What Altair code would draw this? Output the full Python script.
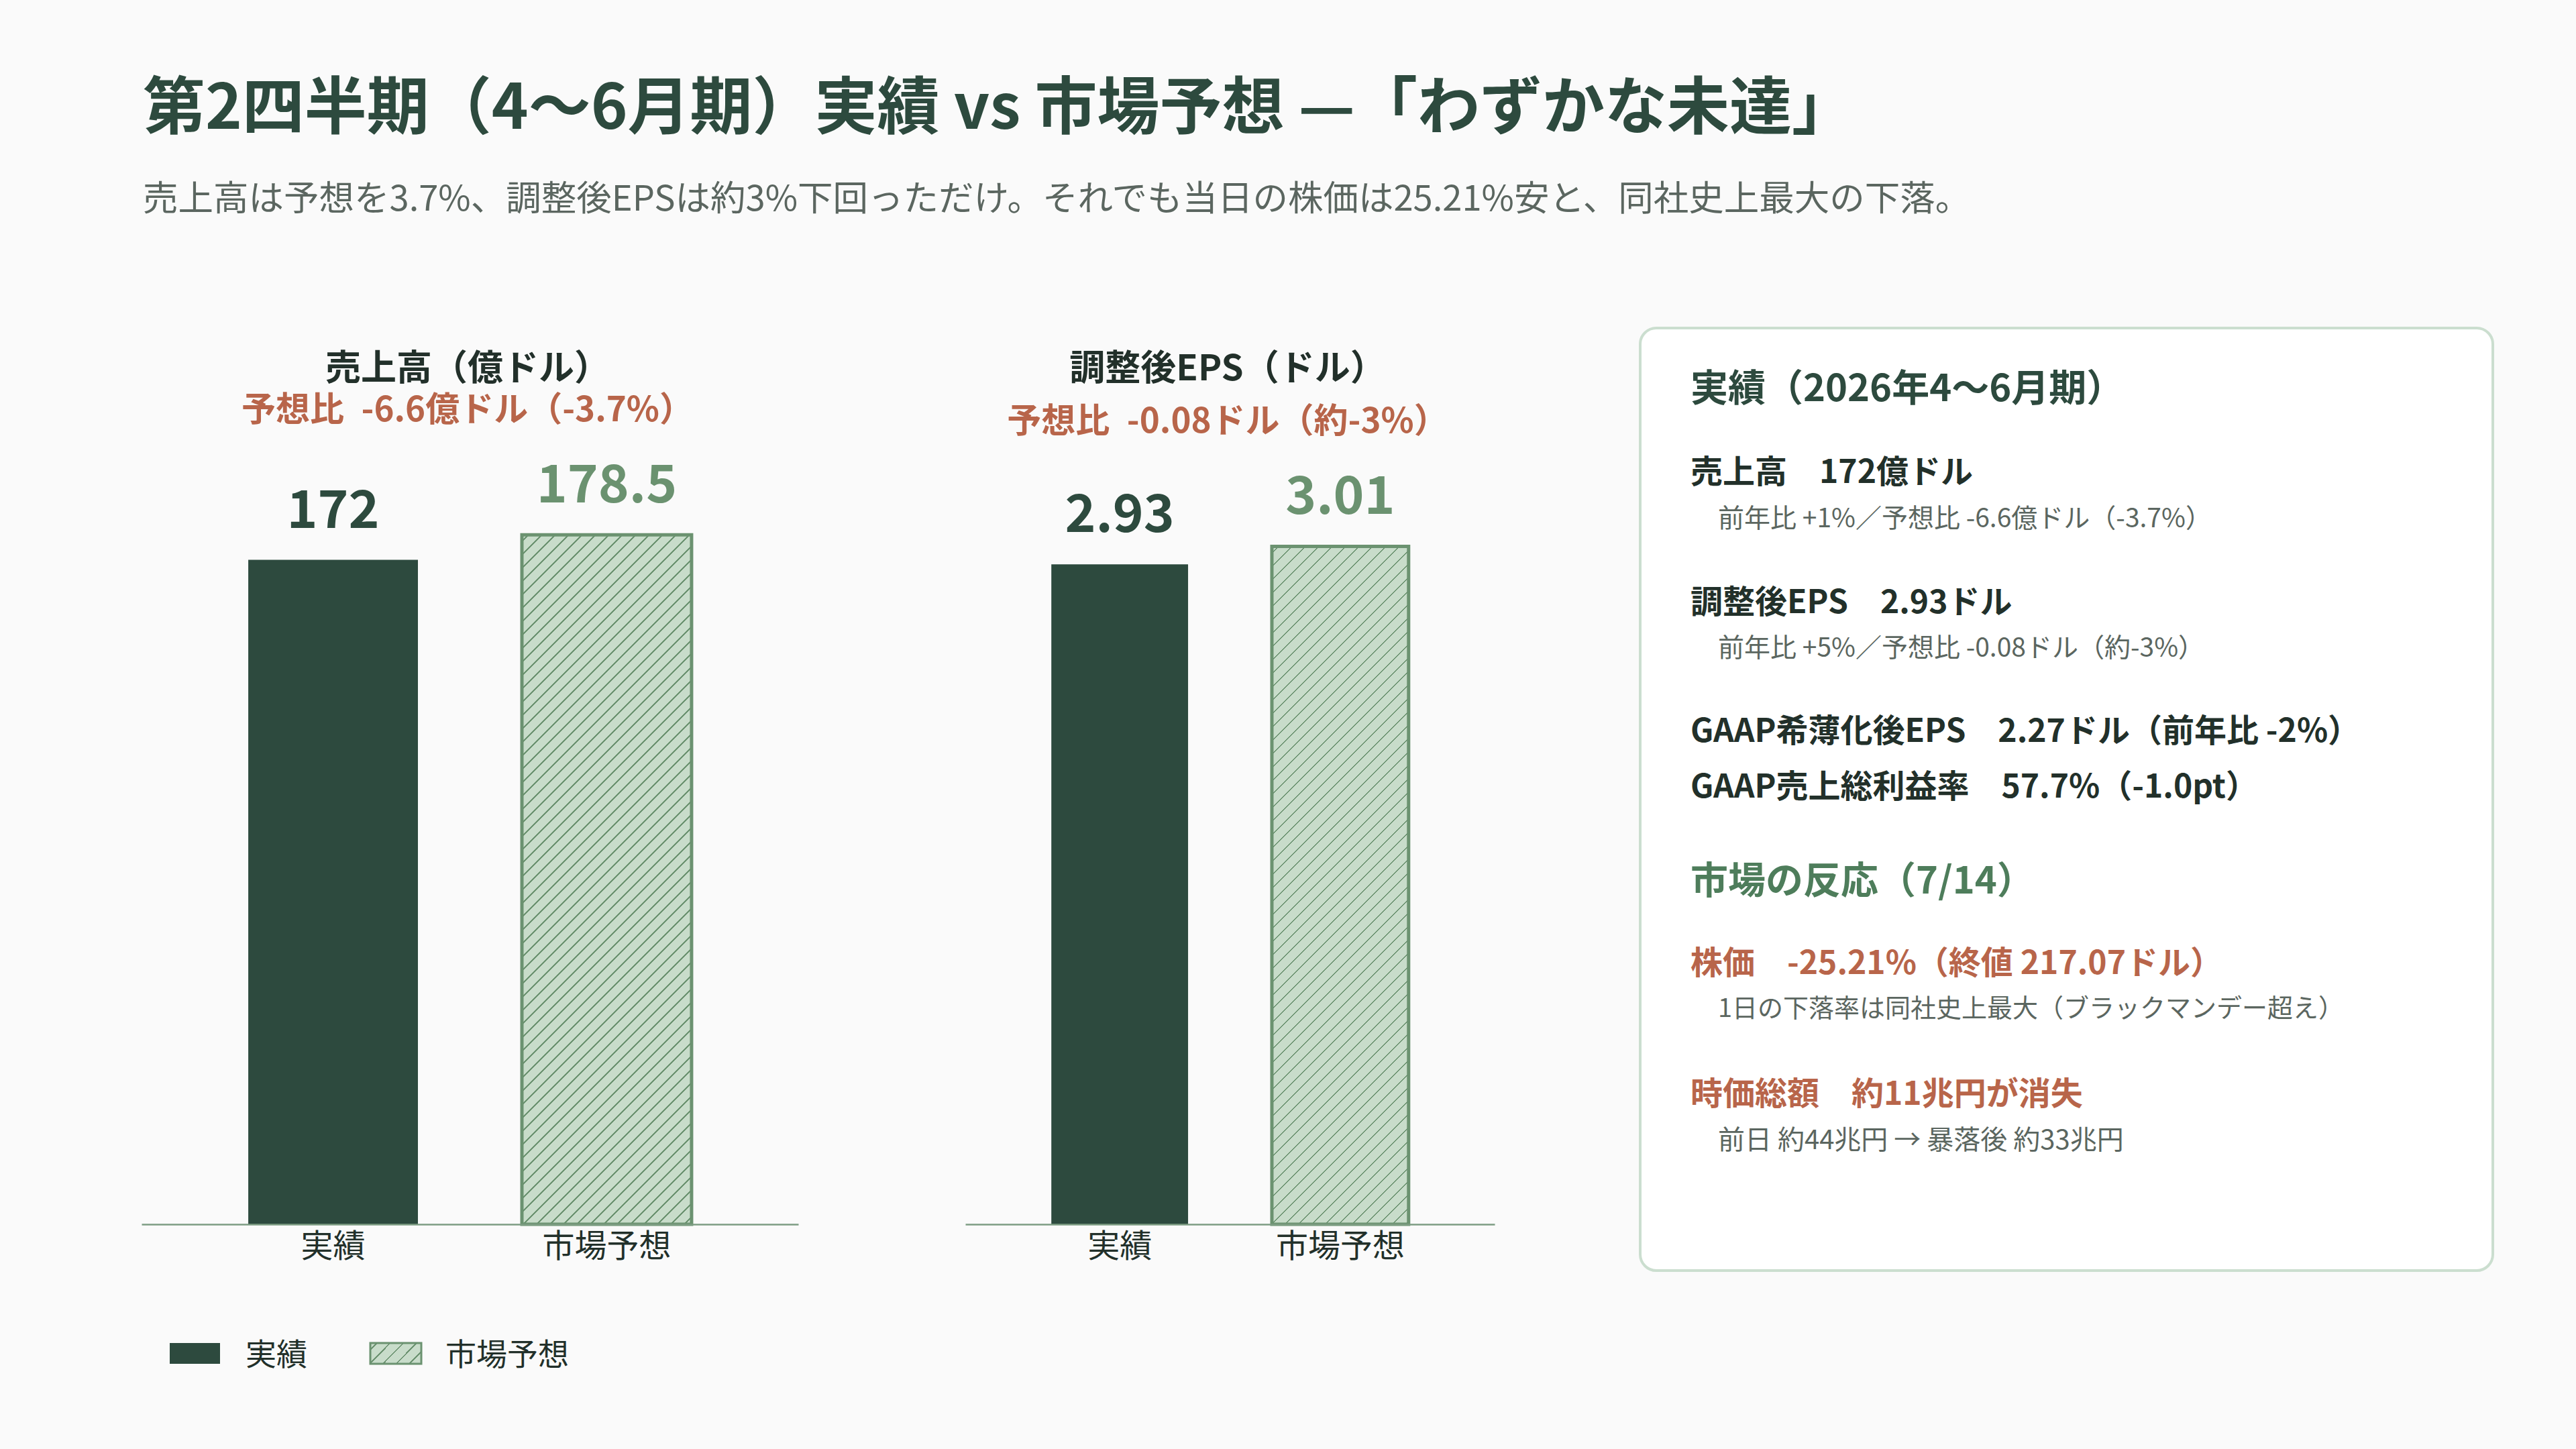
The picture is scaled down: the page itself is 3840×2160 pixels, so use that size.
import altair as alt
import pandas as pd

# ---- palette & type -------------------------------------------------------
FONT = "Noto Sans CJK JP"
BG = "#fafafa"
DARK = "#2d4a3e"
MID = "#6b9270"
LIGHT = "#c8dcca"
INK = "#22302a"
GRAY = "#5b6660"
ORANGE = "#b8654a"
REACT = "#4e7d5b"
AXIS_C = "#7d9d83"
CARD_BORDER = "#cbdecf"

W, H = 3840, 2160
BASE_Y = 1825      # bar baseline
TOP_Y = 673.4      # top of the bar plotting range
PAD_IN, PAD_OUT = 0.38, 0.39

# ---- data ------------------------------------------------------------------
categories = ["実績", "市場予想"]
revenue = [172, 178.5]      # 億ドル
eps = [2.93, 3.01]          # ドル
revenue_max = 200
eps_max = 3.43

main_title = "第2四半期（4〜6月期）実績 vs 市場予想 —「わずかな未達」"
main_sub = "売上高は予想を3.7%、調整後EPSは約3%下回っただけ。それでも当日の株価は25.21%安と、同社史上最大の下落。"

rev_title = "売上高（億ドル）"
rev_sub = "予想比\u2002-6.6億ドル（-3.7%）"
eps_title = "調整後EPS（ドル）"
eps_sub = "予想比\u2002-0.08ドル（約-3%）"

card_lines = [
    "実績（2026年4〜6月期）",
    "売上高\u3000172億ドル",
    "前年比 +1%／予想比 -6.6億ドル（-3.7%）",
    "調整後EPS\u30002.93ドル",
    "前年比 +5%／予想比 -0.08ドル（約-3%）",
    "GAAP希薄化後EPS\u30002.27ドル（前年比 -2%）",
    "GAAP売上総利益率\u300057.7%（-1.0pt）",
    "市場の反応（7/14）",
    "株価\u3000-25.21%（終値 217.07ドル）",
    "1日の下落率は同社史上最大（ブラックマンデー超え）",
    "時価総額\u3000約11兆円が消失",
    "前日 約44兆円 → 暴落後 約33兆円",
]


def hatch(w, h, period=20.0, line=2.6):
    """Diagonal '/' stripes as a hard-stop linear gradient over a w x h box."""
    s = w + h
    c = s / (w * w + h * h)
    stops = [{"offset": 0, "color": LIGHT}]
    pos = period / 2
    while pos + line / 2 < s:
        a = round((pos - line / 2) / s, 6)
        b = round((pos + line / 2) / s, 6)
        stops += [
            {"offset": a, "color": LIGHT},
            {"offset": a, "color": MID},
            {"offset": b, "color": MID},
            {"offset": b, "color": LIGHT},
        ]
        pos += period
    stops.append({"offset": 1, "color": LIGHT})
    return {"gradient": "linear", "x1": 0, "y1": 0,
            "x2": round(w * c, 6), "y2": round(h * c, 6), "stops": stops}


def text(t, x, y, size, color, weight="normal", align="left"):
    return alt.Chart(pd.DataFrame({"t": [t]})).mark_text(
        align=align, baseline="alphabetic", font=FONT, fontSize=size,
        fontWeight=weight, color=color,
    ).encode(x=alt.value(x), y=alt.value(y), text="t:N")


def bar_panel(values, x_range, v_max, fmt):
    df = pd.DataFrame({"cat": categories, "val": values})
    n = len(categories)
    step = (x_range[1] - x_range[0]) / (n - PAD_IN + 2 * PAD_OUT)
    band = step * (1 - PAD_IN)
    fc_h = values[1] / v_max * (BASE_Y - TOP_Y)

    x_enc = alt.X(
        "cat:N", sort=categories,
        scale=alt.Scale(domain=categories, range=list(x_range),
                        paddingInner=PAD_IN, paddingOuter=PAD_OUT),
        axis=alt.Axis(orient="bottom", offset=BASE_Y - H, title=None,
                      labelAngle=0, ticks=False, tickSize=0, grid=False,
                      domainColor=AXIS_C, domainWidth=2.5, labelFont=FONT,
                      labelFontSize=48, labelColor=INK, labelPadding=10,
                      labelLimit=1000, zindex=1),
    )
    y_enc = alt.Y(
        "val:Q",
        scale=alt.Scale(domain=[0, v_max], range=[BASE_Y, TOP_Y],
                        nice=False, zero=True),
        axis=None,
    )
    base = alt.Chart(df).encode(x=x_enc, y=y_enc)
    actual = base.transform_filter(alt.datum.cat == categories[0]).mark_bar(fill=DARK)
    forecast = base.transform_filter(alt.datum.cat == categories[1]).mark_bar(
        fill=hatch(band, fc_h), stroke=MID, strokeWidth=5)
    labels = base.mark_text(
        dy=-48, baseline="alphabetic", font=FONT, fontSize=78, fontWeight="bold"
    ).encode(
        text=alt.Text("val:Q", format=fmt),
        color=alt.Color("cat:N", scale=alt.Scale(domain=categories, range=[DARK, MID]),
                        legend=None),
    )
    return alt.layer(actual, forecast, labels)


rev_panel = bar_panel(revenue, (211, 1190), revenue_max, "~g")
eps_panel = bar_panel(eps, (1439, 2228), eps_max, ".2f")

# ---- summary card ----------------------------------------------------------
card = alt.Chart(pd.DataFrame({"k": [0]})).mark_rect(
    cornerRadius=24, fill="#ffffff", stroke=CARD_BORDER, strokeWidth=4
).encode(x=alt.value(2445), x2=alt.value(3716), y=alt.value(489), y2=alt.value(1894))

card_styles = [
    (2520, 598, 56, DARK, "bold"),
    (2520, 720, 48, INK, "bold"),
    (2561, 786, 39, GRAY, "normal"),
    (2520, 914, 48, INK, "bold"),
    (2561, 979, 39, GRAY, "normal"),
    (2520, 1106, 48, INK, "bold"),
    (2520, 1189, 48, INK, "bold"),
    (2520, 1332, 56, REACT, "bold"),
    (2520, 1452, 48, ORANGE, "bold"),
    (2561, 1516, 38, GRAY, "normal"),
    (2520, 1647, 48, ORANGE, "bold"),
    (2561, 1713, 40, GRAY, "normal"),
]
card_text = [text(t, *st) for t, st in zip(card_lines, card_styles)]

# ---- legend ----------------------------------------------------------------
leg_actual = alt.Chart(pd.DataFrame({"k": [0]})).mark_rect(fill=DARK).encode(
    x=alt.value(253), x2=alt.value(328), y=alt.value(2002), y2=alt.value(2033))
leg_fc = alt.Chart(pd.DataFrame({"k": [0]})).mark_rect(
    fill=hatch(77, 31), stroke=MID, strokeWidth=3
).encode(x=alt.value(552), x2=alt.value(628), y=alt.value(2002), y2=alt.value(2033))

layers = [
    text(main_title, 213, 192, 93, DARK, "bold"),
    text(main_sub, 213, 314, 52.5, GRAY),
    text(rev_title, 697, 567, 53, INK, "bold", "center"),
    text(rev_sub, 697, 628, 51, ORANGE, "bold", "center"),
    text(eps_title, 1830, 567, 53, INK, "bold", "center"),
    text(eps_sub, 1830, 645, 51, ORANGE, "bold", "center"),
    rev_panel,
    eps_panel,
    card,
    *card_text,
    leg_actual,
    leg_fc,
    text(categories[0], 366, 2035, 46, INK),
    text(categories[1], 664, 2035, 46, INK),
]

chart = alt.layer(*layers).resolve_scale(
    x="independent", y="independent"
).properties(
    width=W, height=H, padding=0, background=BG,
    autosize=alt.AutoSizeParams(type="none"),
).configure_view(stroke=None)

chart.save("out.html", embed_options={"renderer": "svg", "actions": False})
